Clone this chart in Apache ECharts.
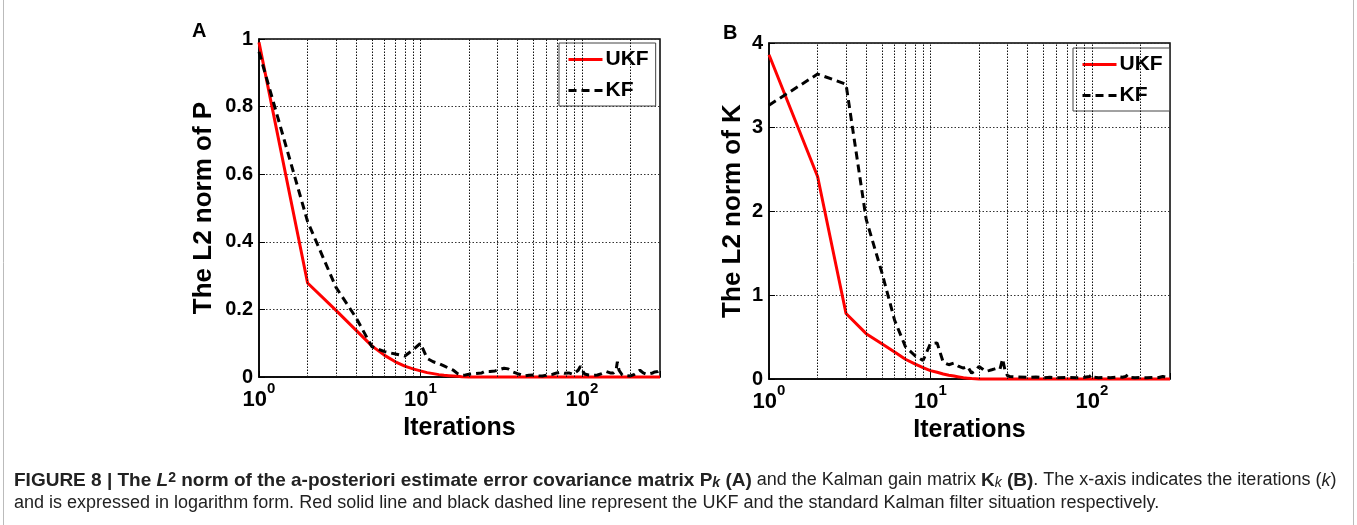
<!DOCTYPE html>
<html>
<head>
<meta charset="utf-8">
<script src="https://cdn.jsdelivr.net/npm/echarts@6/dist/echarts.min.js"></script>
<style>
html,body{margin:0;padding:0;background:#fff;}
#chart{width:1357px;height:525px;}
</style>
</head>
<body>
<div id="chart"></div>
<script>
// ---------- data ----------
// Panel A: L2 norm of P
const iterUkfA = [1,2,3,4,5,6,7,8,9,10,11,12,13,14,15,16,17,18,20,305];
const normUkfA = [0.99,0.278,0.197,0.138,0.092,0.064,0.045,0.032,0.024,0.018,0.013,0.010,0.007,0.005,0.004,0.003,0.002,0.001,0,0];

const iterKfA = [1,2,3,4,5,6,7,8,9,10,11,12,13,14,15,16,17,18,19,20,22,24,25,27,29,31,33,35,37,40,44,47,50,54,57,61,66,70,73,78,83,88,92,95,98,100,102,104,110,118,125,133,142,150,157,163,166,168,170,178,190,200,212,222,229,240,252,264,275,283,290,296,300];
const normKfA = [0.962,0.46,0.265,0.175,0.09,0.075,0.068,0.062,0.08,0.1,0.055,0.045,0.04,0.033,0.026,0.02,0.01,0.005,0.006,0.008,0.01,0.012,0.016,0.016,0.018,0.022,0.026,0.024,0.016,0.01,0.003,0.005,0.006,0.004,0.003,0.006,0.008,0.012,0.014,0.011,0.012,0.008,0.015,0.02,0.032,0.035,0.015,0.009,0.006,0.005,0.006,0.01,0.016,0.012,0.012,0.02,0.045,0.05,0.02,0.006,0.004,0.003,0.008,0.015,0.02,0.012,0.008,0.01,0.012,0.015,0.018,0.016,0.03];

// Panel B: L2 norm of K
const iterUkfB = [1,2,3,4,5,6,7,8,9,10,11,12,13,14,15,16,17,18,20,305];
const normUkfB = [3.86,2.41,0.78,0.54,0.42,0.32,0.235,0.18,0.135,0.1,0.08,0.06,0.045,0.035,0.025,0.015,0.01,0.005,0,0];

const iterKfB = [1,2,3,4,5,6,7,8,9,10,11,12,13,14,15,16,17,18,19,20,21,22,23,24,25,26,27,28,29,30,31,35,40,45,50,55,60,70,80,90,97,100,103,110,120,130,140,148,155,162,167,172,185,200,220,240,260,275,290,305];
const normKfB = [3.26,3.63,3.51,1.9,1.27,0.7,0.385,0.28,0.22,0.42,0.43,0.2,0.17,0.19,0.15,0.13,0.15,0.07,0.1,0.15,0.12,0.09,0.1,0.11,0.12,0.13,0.12,0.24,0.1,0.04,0.03,0.025,0.02,0.025,0.015,0.02,0.015,0.018,0.015,0.02,0.03,0.05,0.02,0.015,0.018,0.015,0.02,0.025,0.02,0.03,0.05,0.02,0.015,0.018,0.015,0.02,0.018,0.03,0.02,0.025];

// Grid / tick values
const gridIter = [2,3,4,5,6,7,8,9,10,20,30,40,50,60,70,80,90,100,200];
const yTicksA = ['0','0.2','0.4','0.6','0.8','1'];
const yTicksB = ['0','1','2','3','4'];
const seriesNames = ['UKF','KF'];
const yNames = ['The L2 norm of P','The L2 norm of K'];
const panelLetters = ['A','B'];
const xName = 'Iterations';

// ---------- chart ----------
const FF = '"Liberation Sans", Arial, Helvetica, sans-serif';
const pairs = (xs, ys) => xs.map((x, i) => [x, ys[i]]);
const chart = echarts.init(document.getElementById('chart'), null, {renderer:'canvas'});

const gridDefs = [
  {left:259, top:39, width:401, height:338},
  {left:769, top:43, width:401, height:336}
];

const dottedV = {color:'#111', width:1, type:[1.5,1.5]};
const dottedH = {color:'#333', width:1, type:[1.5,2]};

function xAxisDef(i){
  return {
    type:'log', logBase:10, gridIndex:i, min:1, max:305,
    axisLine:{onZero:false, lineStyle:{color:'#000', width:1.5}},
    axisTick:{inside:true, length:6, lineStyle:{color:'#000', width:1}},
    splitLine:{show:false},
    axisLabel:{
      margin:4,
      formatter:function(v){
        const l = Math.log10(v), e = Math.round(l);
        if (Math.abs(l - e) > 1e-6) return '';
        return '{b|10}{s|' + e + '}';
      },
      rich:{
        b:{fontSize:22, fontWeight:'bold', fontFamily:FF, color:'#000', lineHeight:30, verticalAlign:'bottom'},
        s:{fontSize:15, fontWeight:'bold', fontFamily:FF, color:'#000', lineHeight:30, verticalAlign:'top'}
      }
    },
    name:xName, nameLocation:'middle', nameGap:36,
    nameTextStyle:{fontSize:25, fontWeight:'bold', fontFamily:FF, color:'#000'}
  };
}
function yAxisDef(i, max, interval, labels, gap){
  return {
    type:'value', gridIndex:i, min:0, max:max, interval:interval,
    axisLine:{show:true, lineStyle:{color:'#000', width:1.5}},
    axisTick:{inside:true, length:6, lineStyle:{color:'#000'}},
    splitLine:{show:true, lineStyle:dottedH},
    axisLabel:{
      margin:6, fontSize:20, fontWeight:'bold', fontFamily:FF, color:'#000',
      formatter:function(v, idx){ return labels[idx]; }
    },
    name:yNames[i], nameLocation:'middle', nameGap:gap,
    nameTextStyle:{fontSize:26, fontWeight:'bold', fontFamily:FF, color:'#000'}
  };
}
function legendDef(left, top){
  return {
    data:seriesNames, orient:'vertical', left:left, top:top,
    itemWidth:34, itemHeight:20, itemGap:10, padding:[6,7,5,8],
    borderColor:'#444', borderWidth:1, backgroundColor:'#fff',
    selectedMode:false,
    itemStyle:{opacity:0, borderWidth:0},
    lineStyle:{width:3},
    textStyle:{fontSize:21, fontWeight:'bold', fontFamily:FF, color:'#000', padding:[0,0,0,-2]}
  };
}
function gridSeries(i){
  return {
    type:'line', xAxisIndex:i, yAxisIndex:i, data:[], silent:true, z:1,
    markLine:{silent:true, symbol:'none', label:{show:false}, lineStyle:dottedV, animation:false,
      data:gridIter.map(v => ({xAxis:v}))}
  };
}
function lineSeries(i, name, xs, ys, color, dashed){
  return {
    name:name, type:'line', xAxisIndex:i, yAxisIndex:i, data:pairs(xs, ys),
    symbol:'none', showSymbol:false, clip:false, z:dashed ? 4 : 3,
    lineStyle:{color:color, width:3, type:dashed ? [8,5] : 'solid'},
    itemStyle:{color:color}
  };
}

const capRich = {
  b:{fontWeight:'bold', fontSize:19, fontFamily:FF, fill:'#222'},
  bi:{fontWeight:'bold', fontStyle:'italic', fontSize:19, fontFamily:FF, fill:'#222'},
  sup:{fontWeight:'bold', fontSize:14, fontFamily:FF, fill:'#222', verticalAlign:'top'},
  sub:{fontWeight:'bold', fontStyle:'italic', fontSize:14, fontFamily:FF, fill:'#222', verticalAlign:'bottom'},
  subn:{fontStyle:'italic', fontSize:14, fontFamily:FF, fill:'#222', verticalAlign:'bottom'},
  n:{fontSize:18, fontFamily:FF, fill:'#222'},
  i:{fontStyle:'italic', fontSize:18, fontFamily:FF, fill:'#222'}
};
const cap1 = '{b|FIGURE 8 | The }{bi|L}{sup|2}{b| norm of the a-posteriori estimate error covariance matrix P}{sub|k}{b| (A)}{n| and the Kalman gain matrix }{b|K}{subn|k}{b| (B)}{n|. The x-axis indicates the iterations (}{i|k}{n|)}';
const cap2 = '{n|and is expressed in logarithm form. Red solid line and black dashed line represent the UKF and the standard Kalman filter situation respectively.}';

const option = {
  animation:false,
  backgroundColor:'#fff',
  grid:gridDefs.map(g => Object.assign({show:true, borderColor:'#000', borderWidth:1.5, backgroundColor:'transparent'}, g)),
  xAxis:[xAxisDef(0), xAxisDef(1)],
  yAxis:[yAxisDef(0, 1, 0.2, yTicksA, 42), yAxisDef(1, 4, 1, yTicksB, 23)],
  legend:[legendDef(559, 43), legendDef(1073, 48)],
  series:[
    gridSeries(0), gridSeries(1),
    lineSeries(0, seriesNames[0], iterUkfA, normUkfA, '#ff0000', false),
    lineSeries(0, seriesNames[1], iterKfA, normKfA, '#000000', true),
    lineSeries(1, seriesNames[0], iterUkfB, normUkfB, '#ff0000', false),
    lineSeries(1, seriesNames[1], iterKfB, normKfB, '#000000', true)
  ],
  graphic:[
    {type:'rect', silent:true, z:-1, shape:{x:3.5, y:-20, width:1350, height:560, r:6}, style:{fill:'none', stroke:'#bbb', lineWidth:1}},
    {type:'text', left:192, top:21, style:{text:panelLetters[0], font:'bold 20px ' + FF, fill:'#000'}},
    {type:'text', left:723, top:23, style:{text:panelLetters[1], font:'bold 20px ' + FF, fill:'#000'}},
    {type:'text', left:14, top:471, style:{text:cap1, rich:capRich, fill:'#222'}},
    {type:'text', left:14, top:494, style:{text:cap2, rich:capRich, fill:'#222'}}
  ]
};
chart.setOption(option);
</script>
</body>
</html>
